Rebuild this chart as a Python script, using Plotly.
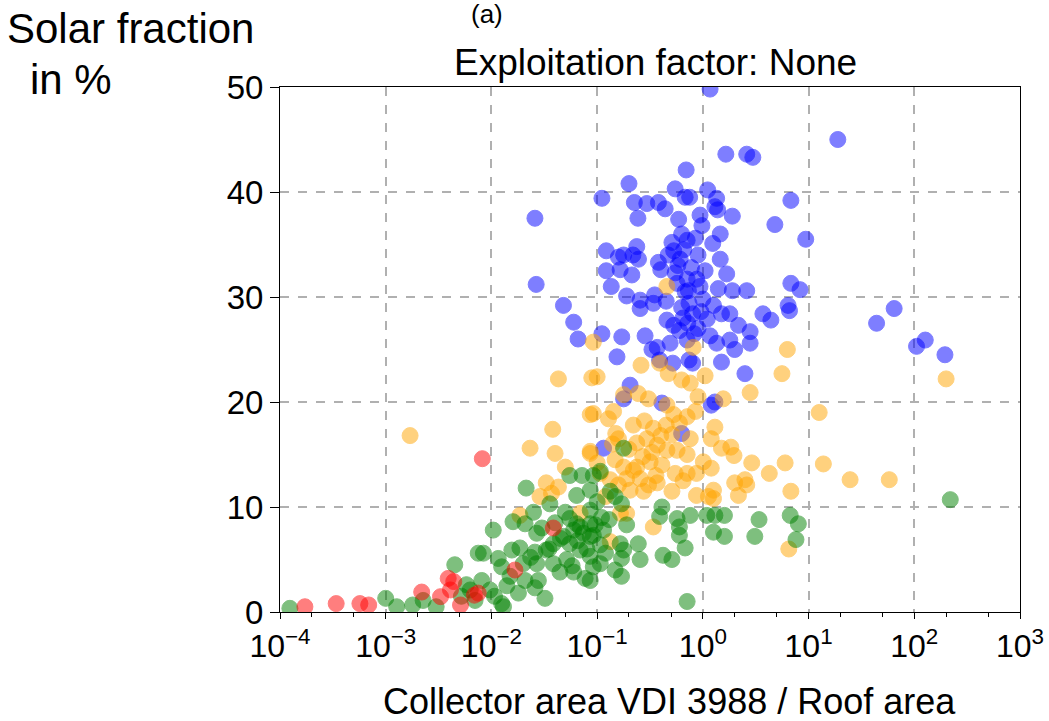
import plotly.graph_objects as go

# ---------------- data ----------------
blue_x = [1.17, 1.65, 2.6, 2.97, 0.695, 0.2, 0.547, 0.68, 0.75, 1.11, 1.35, 1.3, 1.38, 1.9, 4.8,
          0.111, 0.225, 0.295, 0.38, 0.44, 0.243, 0.59, 0.94, 0.98, 1.46, 1.24, 0.63, 0.51, 0.71, 0.85,
          0.53, 0.61, 0.47, 0.38, 0.4, 0.237, 0.218, 0.178, 0.159, 0.246, 0.122, 0.122, 0.165, 0.213,
          0.136, 1.46, 1.68, 0.547, 0.71, 0.875, 0.0258, 0.0265, 0.19, 0.255, 0.34, 0.35, 0.57, 0.73,
          0.94, 1.4, 1.9, 2.6, 0.048, 0.06, 0.066, 0.111, 0.171, 0.255, 0.284, 0.457, 0.53, 0.63, 0.74,
          0.8, 1.26, 1.5, 1.8, 2.17, 2.8, 3.7, 4.4, 1.17, 1.8, 2.8, 0.49, 0.37, 0.71, 1.35,
          18.9, 6.8, 9.4, 6.8, 8.3, 6.4, 6.6, 64.5, 44, 127, 105, 195,
          0.154, 0.205, 0.178, 0.39, 0.74, 1.2, 0.41, 0.63, 0.115, 0.33, 0.52, 0.8, 1.5, 2.5, 1.3, 2.0,
          0.65, 0.9, 1.0, 0.83, 1.1,
          0.58, 0.66, 0.68, 0.78, 0.9, 1.05, 0.96, 0.45, 0.6, 0.72]
blue_y = [49.8, 43.6, 43.6, 43.3, 42.1, 40.8, 40.3, 39.5, 39.5, 40.2, 39.4, 38.6, 38.3, 37.7, 36.9,
          39.4, 39.0, 38.9, 39.0, 38.4, 37.5, 37.4, 37.8, 36.8, 36.0, 35.1, 36.0, 35.2, 35.4, 35.6,
          34.4, 33.6, 34.0, 33.3, 32.6, 34.8, 34.0, 34.0, 33.8, 33.6, 34.4, 32.5, 32.6, 32.1,
          31.0, 33.6, 32.2, 32.3, 31.7, 31.7, 37.5, 31.2, 30.1, 29.7, 29.4, 30.2, 31.3, 30.6,
          31.0, 30.8, 30.6, 30.6, 29.2, 27.6, 26.0, 26.5, 26.2, 28.9, 26.3, 27.8, 27.3, 29.0, 29.4,
          28.4, 29.2, 28.4, 28.4, 27.3, 26.7, 28.4, 27.8, 26.3, 25.9, 25.6, 25.6, 25.2, 25.9, 25.6,
          45.0, 39.2, 35.5, 31.3, 30.7, 29.2, 28.7, 28.9, 27.5, 25.9, 25.3, 24.5,
          24.3, 21.6, 20.3, 24.0, 24.0, 19.7, 19.9, 17.0, 15.6, 25.0, 23.7, 23.7, 23.8, 22.7, 20.0, 25.0,
          28.0, 27.0, 29.8, 26.5, 27.9,
          33.0, 34.5, 30.5, 32.8, 34.0, 32.5, 28.6, 29.6, 26.8, 27.5]

orange_x = [0.457, 0.092, 0.81, 6.3, 200, 24.7, 58, 5.6, 2.8, 1.56, 12.6, 1.3, 1.2, 1.5, 1.84, 1.97,
            2.9, 4.25, 6.0, 13.8, 1.2, 2.0, 2.5, 2.6, 2.17, 1.26, 1.26, 6.8, 6.5,
            0.1, 0.26, 0.39, 0.47, 0.63, 0.76, 0.178, 0.245, 0.306, 0.457, 0.53, 0.71, 0.85, 0.092,
            0.128, 0.143, 0.22, 0.34, 0.51, 0.76, 0.159, 0.237, 0.295, 0.37, 0.457, 0.57, 0.71, 1.01,
            0.086, 0.1, 0.148, 0.178, 0.237, 0.317, 0.41, 0.547, 0.71, 0.87, 0.19, 0.255, 0.306, 0.37,
            0.51, 0.87, 1.13, 0.107, 0.133, 0.159, 0.205, 0.275, 0.166, 0.19, 0.34, 0.133,
            0.043, 0.089, 0.086, 0.038, 0.0232, 0.04, 0.086, 0.05, 0.033, 0.043, 0.0288, 0.037,
            0.0186, 0.069, 0.0017, 0.9, 1.05,
            0.15, 0.2, 0.27, 0.33, 0.4, 0.45, 0.6, 0.28, 0.22, 0.14, 0.65, 0.36, 0.12]
orange_y = [31.0, 25.7, 25.2, 25.0, 22.2, 12.6, 12.6, 22.7, 20.9, 20.3, 19.0, 17.6, 16.5, 15.6, 15.7, 14.9,
            14.2, 13.2, 14.2, 14.1, 13.7, 12.3, 12.6, 12.1, 11.1, 11.6, 10.8, 11.5, 6.0,
            22.4, 23.5, 23.7, 22.7, 22.1, 21.8, 20.7, 20.8, 20.3, 19.7, 18.8, 18.6, 19.1, 18.9,
            18.4, 19.1, 17.8, 17.5, 16.9, 16.5, 16.5, 16.1, 16.5, 15.9, 15.4, 15.4, 15.0, 14.3,
            15.1, 14.2, 14.5, 13.8, 13.8, 14.3, 14.0, 13.2, 13.2, 13.2, 12.7, 12.7, 12.1, 12.3,
            11.5, 11.1, 11.0, 13.2, 12.6, 12.1, 11.6, 11.5, 9.4, 9.4, 8.1, 6.7,
            22.2, 22.3, 18.8, 17.4, 15.6, 15.1, 15.3, 13.8, 12.3, 11.9, 11.0, 11.3,
            9.2, 9.4, 16.8, 20.5, 22.5,
            17.0, 15.5, 14.8, 15.2, 16.8, 17.8, 18.0, 18.2, 13.5, 16.0, 12.5, 13.0, 11.0]

green_x = [1.24e-4, 1.0e-3, 1.27e-3, 1.8e-3, 2.26e-3, 4.5e-3, 5.8e-3, 7.5e-3, 5.2e-3, 3.0e-3,
           0.0213, 0.064, 0.055, 0.072, 0.092, 0.0357, 0.016, 0.0104, 0.0208, 0.0268, 0.055, 0.069,
           0.086, 0.048, 0.0385, 0.033, 0.0258, 0.0186, 0.0156, 0.0116, 0.0084, 0.0125, 0.015, 0.0208,
           0.0278, 0.0258, 0.0385, 0.0515, 0.0445, 0.06, 0.077, 0.0321, 0.0081, 0.0097, 0.0125, 0.013,
           0.0063, 0.055, 0.069, 0.086, 0.0268, 0.02, 0.064, 0.074, 0.06, 0.086,
           0.178, 0.107, 0.086, 0.133, 0.148, 0.17, 0.1, 0.086, 0.41, 0.39, 0.19, 0.57, 0.76, 0.6,
           1.09, 1.26, 0.6, 0.115, 0.096, 0.092, 0.107, 0.165, 0.245, 0.178, 0.12, 0.17, 0.255, 0.42,
           0.51, 0.68, 0.107, 0.148, 0.17, 0.086, 0.71,
           1.3, 1.6, 3.4, 6.7, 8.0, 1.6, 3.1, 7.6, 219,
           0.007, 0.0107, 0.014, 0.018,
           0.04, 0.045, 0.05, 0.035, 0.065, 0.08, 0.03, 0.025, 0.0235, 0.058, 0.092, 0.11, 0.13]
green_y = [0.35, 1.3, 0.5, 0.67, 1.1, 4.5, 2.6, 5.6, 1.5, 0.5,
           11.8, 11.1, 13.0, 13.0, 13.0, 10.3, 8.6, 7.8, 8.4, 7.5, 8.9, 8.1,
           7.2, 7.2, 6.5, 5.9, 5.7, 6.1, 5.9, 5.1, 5.6, 4.3, 3.4, 3.0,
           3.0, 2.3, 4.6, 5.0, 3.8, 3.8, 3.2, 1.3, 3.0, 2.1, 0.8, 0.5,
           2.1, 6.5, 5.9, 5.3, 4.6, 4.6, 8.4, 7.5, 7.8, 8.4,
           15.6, 13.4, 11.6, 11.5, 11.0, 10.3, 10.5, 9.7, 10.0, 9.1, 8.3, 8.9, 9.2, 8.1,
           9.2, 7.6, 7.3, 7.8, 8.3, 7.3, 6.4, 6.5, 6.5, 5.9, 5.6, 5.1, 5.0, 5.4,
           5.0, 6.1, 4.6, 4.0, 3.4, 3.0, 1.0,
           9.2, 9.2, 8.8, 9.2, 8.4, 7.2, 7.2, 6.9, 10.7,
           1.1, 1.5, 2.5, 1.8,
           8.5, 7.0, 9.5, 6.0, 6.8, 6.0, 8.0, 9.5, 5.2, 4.4, 4.3, 9.0, 8.8]

red_x = [1.72e-4, 3.4e-4, 5.7e-4, 6.9e-4, 2.19e-3, 3.3e-3, 3.9e-3, 4.4e-3, 4.1e-3, 5.1e-3,
         8.2e-3, 6.9e-3, 0.0385, 0.0167, 0.0075]
red_y = [0.5, 0.8, 0.8, 0.67, 1.9, 1.46, 3.2, 2.9, 2.1, 0.67,
         14.6, 1.6, 8.0, 4.0, 1.8]

x_tick_vals = [1e-4, 1e-3, 1e-2, 1e-1, 1e0, 1e1, 1e2, 1e3]
x_tick_text = ["10<sup>\u22124</sup>", "10<sup>\u22123</sup>", "10<sup>\u22122</sup>", "10<sup>\u22121</sup>",
               "10<sup>0</sup>", "10<sup>1</sup>", "10<sup>2</sup>", "10<sup>3</sup>"]
y_tick_vals = [0, 10, 20, 30, 40, 50]

series = [
    (blue_x, blue_y, "blue"),
    (orange_x, orange_y, "orange"),
    (green_x, green_y, "green"),
    (red_x, red_y, "red"),
]

FONT = "Liberation Sans, Arial, sans-serif"

fig = go.Figure()
for xs, ys, col in series:
    fig.add_trace(go.Scatter(
        x=xs, y=ys, mode="markers",
        marker=dict(size=16, color=col, opacity=0.5, line=dict(width=1, color=col)),
        showlegend=False, cliponaxis=True,
    ))

fig.update_xaxes(
    type="log", range=[-4, 3], automargin=False,
    tickvals=x_tick_vals, ticktext=x_tick_text,
    ticks="outside", ticklen=6, tickwidth=1, tickcolor="black",
    minor=dict(ticks="outside", ticklen=4, tickwidth=1, tickcolor="black", showgrid=False),
    showline=True, linecolor="black", linewidth=1, mirror=True,
    showgrid=True, gridcolor="#b0b0b0", griddash="dash", gridwidth=1.5,
    tickfont=dict(size=32, color="black", family=FONT),
    zeroline=False,
)
fig.update_yaxes(
    range=[0, 50], tickvals=y_tick_vals, automargin=False,
    ticks="outside", ticklen=9, tickwidth=1, tickcolor="black",
    showline=True, linecolor="black", linewidth=1, mirror=True,
    showgrid=True, gridcolor="#b0b0b0", griddash="dash", gridwidth=1.5,
    tickfont=dict(size=33, color="black", family=FONT),
    zeroline=False,
)

fig.update_layout(
    width=1049, height=721,
    margin=dict(l=280, r=29, t=87, b=109),
    paper_bgcolor="white", plot_bgcolor="white",
    font=dict(family=FONT, color="black"),
    annotations=[
        dict(text="(a)", x=0.28, y=1.14, xref="paper", yref="paper", showarrow=False,
             font=dict(size=26), xanchor="center", yanchor="middle"),
        dict(text="Exploitation factor: None", x=0.507, y=1.046, xref="paper", yref="paper",
             showarrow=False, font=dict(size=37), xanchor="center", yanchor="middle"),
        dict(text="Solar fraction", x=-0.372, y=1.112, xref="paper", yref="paper",
             showarrow=False, font=dict(size=42), xanchor="left", yanchor="middle"),
        dict(text="in %", x=-0.34, y=1.015, xref="paper", yref="paper",
             showarrow=False, font=dict(size=42), xanchor="left", yanchor="middle"),
        dict(text="Collector area VDI 3988 / Roof area", x=0.527, y=-0.17, xref="paper", yref="paper",
             showarrow=False, font=dict(size=36), xanchor="center", yanchor="middle"),
    ],
)

fig.write_html("out.html")
